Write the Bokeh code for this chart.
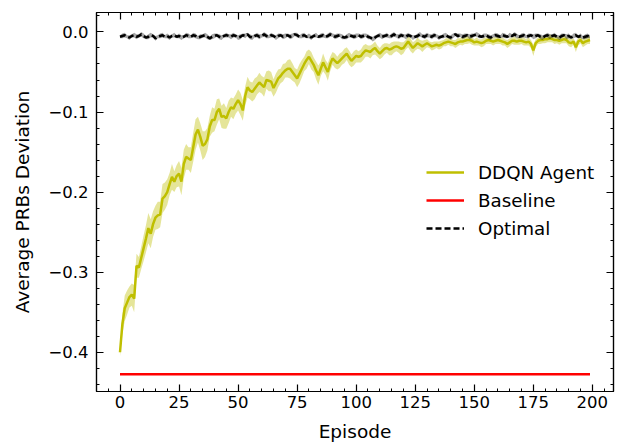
from bokeh.plotting import figure
from bokeh.models import (Range1d, FixedTicker, LinearAxis, Legend, LegendItem,
                          CustomJSTickFormatter, ColumnDataSource)
from bokeh.embed import file_html
from bokeh.resources import INLINE

episodes = list(range(200))

ddqn_mean = [
    -0.400, -0.365, -0.345, -0.338, -0.331, -0.328, -0.333, -0.292, -0.294, -0.282,
    -0.270, -0.258, -0.245, -0.252, -0.240, -0.232, -0.229, -0.228, -0.208, -0.205,
    -0.200, -0.190, -0.181, -0.187, -0.180, -0.177, -0.187, -0.165, -0.156, -0.158,
    -0.160, -0.144, -0.128, -0.122, -0.131, -0.142, -0.140, -0.134, -0.118, -0.110,
    -0.110, -0.100, -0.096, -0.106, -0.105, -0.108, -0.100, -0.094, -0.096, -0.090,
    -0.085, -0.090, -0.098, -0.080, -0.069, -0.073, -0.075, -0.071, -0.067, -0.063,
    -0.066, -0.069, -0.060, -0.061, -0.062, -0.070, -0.064, -0.058, -0.055, -0.051,
    -0.048, -0.046, -0.046, -0.050, -0.054, -0.058, -0.052, -0.046, -0.040, -0.035,
    -0.031, -0.036, -0.041, -0.048, -0.054, -0.046, -0.038, -0.044, -0.050, -0.040,
    -0.033, -0.036, -0.039, -0.036, -0.033, -0.030, -0.027, -0.032, -0.036, -0.033,
    -0.030, -0.031, -0.030, -0.026, -0.023, -0.024, -0.025, -0.022, -0.020, -0.024,
    -0.027, -0.024, -0.021, -0.020, -0.022, -0.021, -0.019, -0.018, -0.019, -0.021,
    -0.020, -0.016, -0.012, -0.016, -0.020, -0.017, -0.014, -0.016, -0.018, -0.016,
    -0.014, -0.016, -0.018, -0.017, -0.016, -0.017, -0.016, -0.014, -0.013, -0.012,
    -0.013, -0.014, -0.015, -0.013, -0.012, -0.012, -0.011, -0.010, -0.010, -0.011,
    -0.013, -0.012, -0.013, -0.014, -0.013, -0.011, -0.010, -0.011, -0.012, -0.011,
    -0.010, -0.011, -0.012, -0.013, -0.015, -0.013, -0.011, -0.011, -0.012, -0.011,
    -0.011, -0.012, -0.013, -0.012, -0.015, -0.023, -0.014, -0.011, -0.010, -0.010,
    -0.009, -0.009, -0.008, -0.009, -0.010, -0.010, -0.011, -0.010, -0.009, -0.010,
    -0.013, -0.014, -0.012, -0.019, -0.012, -0.010, -0.014, -0.012, -0.011, -0.010,
]

ddqn_std = [
    0.005, 0.013, 0.016, 0.015, 0.013, 0.014, 0.017, 0.015, 0.013, 0.014,
    0.016, 0.017, 0.019, 0.018, 0.016, 0.015, 0.017, 0.016, 0.018, 0.017,
    0.016, 0.014, 0.016, 0.013, 0.014, 0.016, 0.017, 0.018, 0.016, 0.014,
    0.016, 0.018, 0.019, 0.016, 0.017, 0.018, 0.016, 0.014, 0.013, 0.016,
    0.014, 0.016, 0.013, 0.014, 0.016, 0.013, 0.014, 0.012, 0.013, 0.012,
    0.013, 0.014, 0.013, 0.012, 0.013, 0.011, 0.012, 0.013, 0.011, 0.012,
    0.011, 0.012, 0.011, 0.013, 0.012, 0.011, 0.012, 0.011, 0.009, 0.011,
    0.009, 0.011, 0.012, 0.011, 0.009, 0.011, 0.012, 0.011, 0.009, 0.011,
    0.009, 0.011, 0.009, 0.011, 0.012, 0.009, 0.011, 0.009, 0.011, 0.009,
    0.008, 0.009, 0.008, 0.009, 0.008, 0.009, 0.008, 0.009, 0.008, 0.009,
    0.008, 0.007, 0.008, 0.009, 0.008, 0.007, 0.008, 0.007, 0.008, 0.007,
    0.007, 0.008, 0.007, 0.006, 0.007, 0.008, 0.007, 0.006, 0.007, 0.008,
    0.007, 0.006, 0.007, 0.008, 0.007, 0.006, 0.007, 0.006, 0.007, 0.006,
    0.005, 0.004, 0.005, 0.005, 0.004, 0.005, 0.005, 0.004, 0.005, 0.004,
    0.005, 0.004, 0.005, 0.005, 0.004, 0.005, 0.004, 0.005, 0.004, 0.005,
    0.004, 0.005, 0.004, 0.005, 0.005, 0.004, 0.005, 0.004, 0.005, 0.004,
    0.005, 0.004, 0.005, 0.004, 0.005, 0.005, 0.004, 0.005, 0.004, 0.005,
    0.004, 0.005, 0.004, 0.005, 0.005, 0.007, 0.005, 0.004, 0.005, 0.004,
    0.005, 0.004, 0.005, 0.004, 0.005, 0.004, 0.005, 0.004, 0.005, 0.004,
    0.005, 0.005, 0.004, 0.006, 0.005, 0.004, 0.005, 0.005, 0.004, 0.005,
]

optimal_mean = [
    -0.006, -0.005, -0.004, -0.006, -0.007, -0.005, -0.004, -0.006, -0.005, -0.003,
    -0.005, -0.007, -0.006, -0.004, -0.005, -0.008, -0.006, -0.005, -0.004, -0.006,
    -0.005, -0.007, -0.005, -0.004, -0.006, -0.005, -0.007, -0.006, -0.004, -0.005,
    -0.006, -0.004, -0.005, -0.007, -0.006, -0.005, -0.004, -0.006, -0.008, -0.006,
    -0.005, -0.004, -0.006, -0.007, -0.005, -0.004, -0.005, -0.006, -0.004, -0.005,
    -0.007, -0.006, -0.004, -0.005, -0.003, -0.006, -0.007, -0.005, -0.004, -0.006,
    -0.005, -0.003, -0.005, -0.006, -0.004, -0.005, -0.007, -0.005, -0.004, -0.006,
    -0.005, -0.004, -0.006, -0.005, -0.003, -0.004, -0.006, -0.005, -0.004, -0.006,
    -0.005, -0.007, -0.005, -0.004, -0.006, -0.005, -0.004, -0.006, -0.005, -0.003,
    -0.004, -0.006, -0.005, -0.004, -0.006, -0.007, -0.006, -0.004, -0.005, -0.006,
    -0.005, -0.004, -0.006, -0.005, -0.004, -0.006, -0.007, -0.009, -0.007, -0.005,
    -0.004, -0.006, -0.005, -0.004, -0.006, -0.005, -0.003, -0.005, -0.006, -0.004,
    -0.005, -0.006, -0.004, -0.005, -0.007, -0.006, -0.005, -0.003, -0.005, -0.006,
    -0.004, -0.005, -0.006, -0.004, -0.005, -0.007, -0.006, -0.005, -0.004, -0.006,
    -0.007, -0.005, -0.003, -0.005, -0.004, -0.006, -0.005, -0.004, -0.006, -0.005,
    -0.004, -0.003, -0.005, -0.006, -0.005, -0.004, -0.006, -0.007, -0.005, -0.004,
    -0.005, -0.006, -0.004, -0.005, -0.006, -0.004, -0.005, -0.003, -0.005, -0.006,
    -0.005, -0.004, -0.006, -0.005, -0.004, -0.006, -0.005, -0.004, -0.006, -0.007,
    -0.005, -0.004, -0.006, -0.005, -0.004, -0.006, -0.007, -0.005, -0.004, -0.006,
    -0.005, -0.007, -0.005, -0.004, -0.006, -0.005, -0.007, -0.006, -0.005, -0.006,
]

optimal_std = [
    0.002, 0.003, 0.003, 0.002, 0.003, 0.002, 0.003, 0.003, 0.002, 0.003,
    0.003, 0.002, 0.003, 0.003, 0.002, 0.003, 0.002, 0.003, 0.003, 0.002,
    0.003, 0.003, 0.002, 0.003, 0.002, 0.003, 0.003, 0.002, 0.003, 0.003,
    0.002, 0.003, 0.003, 0.002, 0.003, 0.002, 0.003, 0.003, 0.002, 0.003,
    0.003, 0.002, 0.003, 0.003, 0.002, 0.003, 0.002, 0.003, 0.003, 0.002,
    0.003, 0.003, 0.002, 0.003, 0.002, 0.003, 0.003, 0.002, 0.003, 0.003,
    0.002, 0.003, 0.003, 0.002, 0.003, 0.002, 0.003, 0.003, 0.002, 0.003,
    0.003, 0.002, 0.003, 0.003, 0.002, 0.003, 0.002, 0.003, 0.003, 0.002,
    0.003, 0.003, 0.002, 0.003, 0.002, 0.003, 0.003, 0.002, 0.003, 0.003,
    0.002, 0.003, 0.003, 0.002, 0.003, 0.002, 0.003, 0.003, 0.002, 0.003,
    0.003, 0.002, 0.003, 0.003, 0.002, 0.003, 0.002, 0.003, 0.003, 0.002,
    0.003, 0.003, 0.002, 0.003, 0.002, 0.003, 0.003, 0.002, 0.003, 0.003,
    0.002, 0.003, 0.003, 0.002, 0.003, 0.002, 0.003, 0.003, 0.002, 0.003,
    0.003, 0.002, 0.003, 0.003, 0.002, 0.003, 0.002, 0.003, 0.003, 0.002,
    0.003, 0.003, 0.002, 0.003, 0.002, 0.003, 0.003, 0.002, 0.003, 0.003,
    0.002, 0.003, 0.003, 0.002, 0.003, 0.002, 0.003, 0.003, 0.002, 0.003,
    0.003, 0.002, 0.003, 0.003, 0.002, 0.003, 0.002, 0.003, 0.003, 0.002,
    0.003, 0.003, 0.002, 0.003, 0.002, 0.003, 0.003, 0.002, 0.003, 0.003,
    0.002, 0.003, 0.003, 0.002, 0.003, 0.002, 0.003, 0.003, 0.002, 0.003,
    0.003, 0.002, 0.003, 0.003, 0.002, 0.003, 0.002, 0.003, 0.003, 0.002,
]

baseline_value = -0.4275

x_major_ticks = [0, 25, 50, 75, 100, 125, 150, 175, 200]
x_minor_ticks = list(range(-5, 210, 5))
y_major_ticks = [-0.4, -0.3, -0.2, -0.1, 0.0]
y_minor_ticks = [-0.44, -0.42, -0.40, -0.38, -0.36, -0.34, -0.32, -0.30, -0.28, -0.26,
                 -0.24, -0.22, -0.20, -0.18, -0.16, -0.14, -0.12, -0.10, -0.08, -0.06,
                 -0.04, -0.02, 0.0, 0.02]

series_labels = ["DDQN Agent", "Baseline", "Optimal"]

FONT = "DejaVu Sans"
TICK_FS = "16.5px"
LABEL_FS = "18.5px"
LEGEND_FS = "18.3px"

src = ColumnDataSource(dict(
    x=episodes,
    d=ddqn_mean,
    d_lo=[m - s for m, s in zip(ddqn_mean, ddqn_std)],
    d_hi=[m + s for m, s in zip(ddqn_mean, ddqn_std)],
    o=optimal_mean,
    o_lo=[m - s for m, s in zip(optimal_mean, optimal_std)],
    o_hi=[m + s for m, s in zip(optimal_mean, optimal_std)],
    b=[baseline_value for _ in episodes],
))

p = figure(width=628, height=446, output_backend="svg", toolbar_location=None,
           x_range=Range1d(-9.95, 208.95), y_range=Range1d(-0.449, 0.0243),
           min_border_left=96, min_border_right=15, min_border_top=12, min_border_bottom=55,
           x_axis_label="Episode", y_axis_label="Average PRBs Deviation")
p.grid.visible = False
p.outline_line_color = "black"
p.outline_line_width = 1.2
p.background_fill_color = "white"
p.border_fill_color = "white"

yfmt = CustomJSTickFormatter(code="""
if (Math.abs(tick) < 1e-9) { return '0.0'; }
return tick.toFixed(1).replace('-', '\\u2212');
""")
xfmt = CustomJSTickFormatter(code="return Math.round(tick).toString();")
blankfmt = CustomJSTickFormatter(code="return '';")

def style_axis(ax, labels=True):
    ax.axis_line_color = "black"
    ax.axis_line_width = 1.2
    ax.major_tick_in = 7
    ax.major_tick_out = 0
    ax.minor_tick_in = 3
    ax.minor_tick_out = 0
    ax.major_tick_line_color = "black"
    ax.minor_tick_line_color = "black"
    ax.major_tick_line_width = 1.2
    ax.minor_tick_line_width = 1.0
    if labels:
        ax.major_label_text_font = FONT
        ax.major_label_text_font_size = TICK_FS
        ax.major_label_text_color = "black"
        ax.axis_label_text_font = FONT
        ax.axis_label_text_font_size = LABEL_FS
        ax.axis_label_text_font_style = "normal"
        ax.axis_label_text_color = "black"
    else:
        ax.formatter = blankfmt
        ax.major_label_standoff = 0

xa = p.xaxis[0]
xa.ticker = FixedTicker(ticks=x_major_ticks, minor_ticks=x_minor_ticks)
xa.formatter = xfmt
style_axis(xa)
xa.major_label_standoff = 4
xa.axis_label_standoff = 10

ya = p.yaxis[0]
ya.ticker = FixedTicker(ticks=y_major_ticks, minor_ticks=y_minor_ticks)
ya.formatter = yfmt
style_axis(ya)
ya.major_label_standoff = 8
ya.axis_label_standoff = 12

top = LinearAxis(ticker=FixedTicker(ticks=x_major_ticks, minor_ticks=x_minor_ticks))
style_axis(top, labels=False)
p.add_layout(top, "above")
right = LinearAxis(ticker=FixedTicker(ticks=y_major_ticks, minor_ticks=y_minor_ticks))
style_axis(right, labels=False)
p.add_layout(right, "right")

ddqn_color = "#bfbf00"
p.varea(x="x", y1="d_lo", y2="d_hi", source=src, fill_color=ddqn_color, fill_alpha=0.4)
r_ddqn = p.line(x="x", y="d", source=src, line_color=ddqn_color, line_width=2.5)
r_base = p.line(x="x", y="b", source=src, line_color="#ff0000", line_width=2.5)
p.varea(x="x", y1="o_lo", y2="o_hi", source=src, fill_color="#000000", fill_alpha=0.35)
r_opt = p.line(x="x", y="o", source=src, line_color="black", line_width=2.5,
               line_dash="6 3")

legend = Legend(items=[LegendItem(label=series_labels[0], renderers=[r_ddqn]),
                       LegendItem(label=series_labels[1], renderers=[r_base]),
                       LegendItem(label=series_labels[2], renderers=[r_opt])],
                location=(330, 152))
legend.border_line_alpha = 0
legend.background_fill_alpha = 0
legend.padding = 0
legend.margin = 0
legend.spacing = 6
legend.glyph_width = 38
legend.glyph_height = 22
legend.label_height = 22
legend.label_standoff = 14
legend.label_text_font = FONT
legend.label_text_font_size = LEGEND_FS
legend.label_text_color = "black"
p.add_layout(legend)

open("out.html", "w").write(file_html(p, INLINE))
